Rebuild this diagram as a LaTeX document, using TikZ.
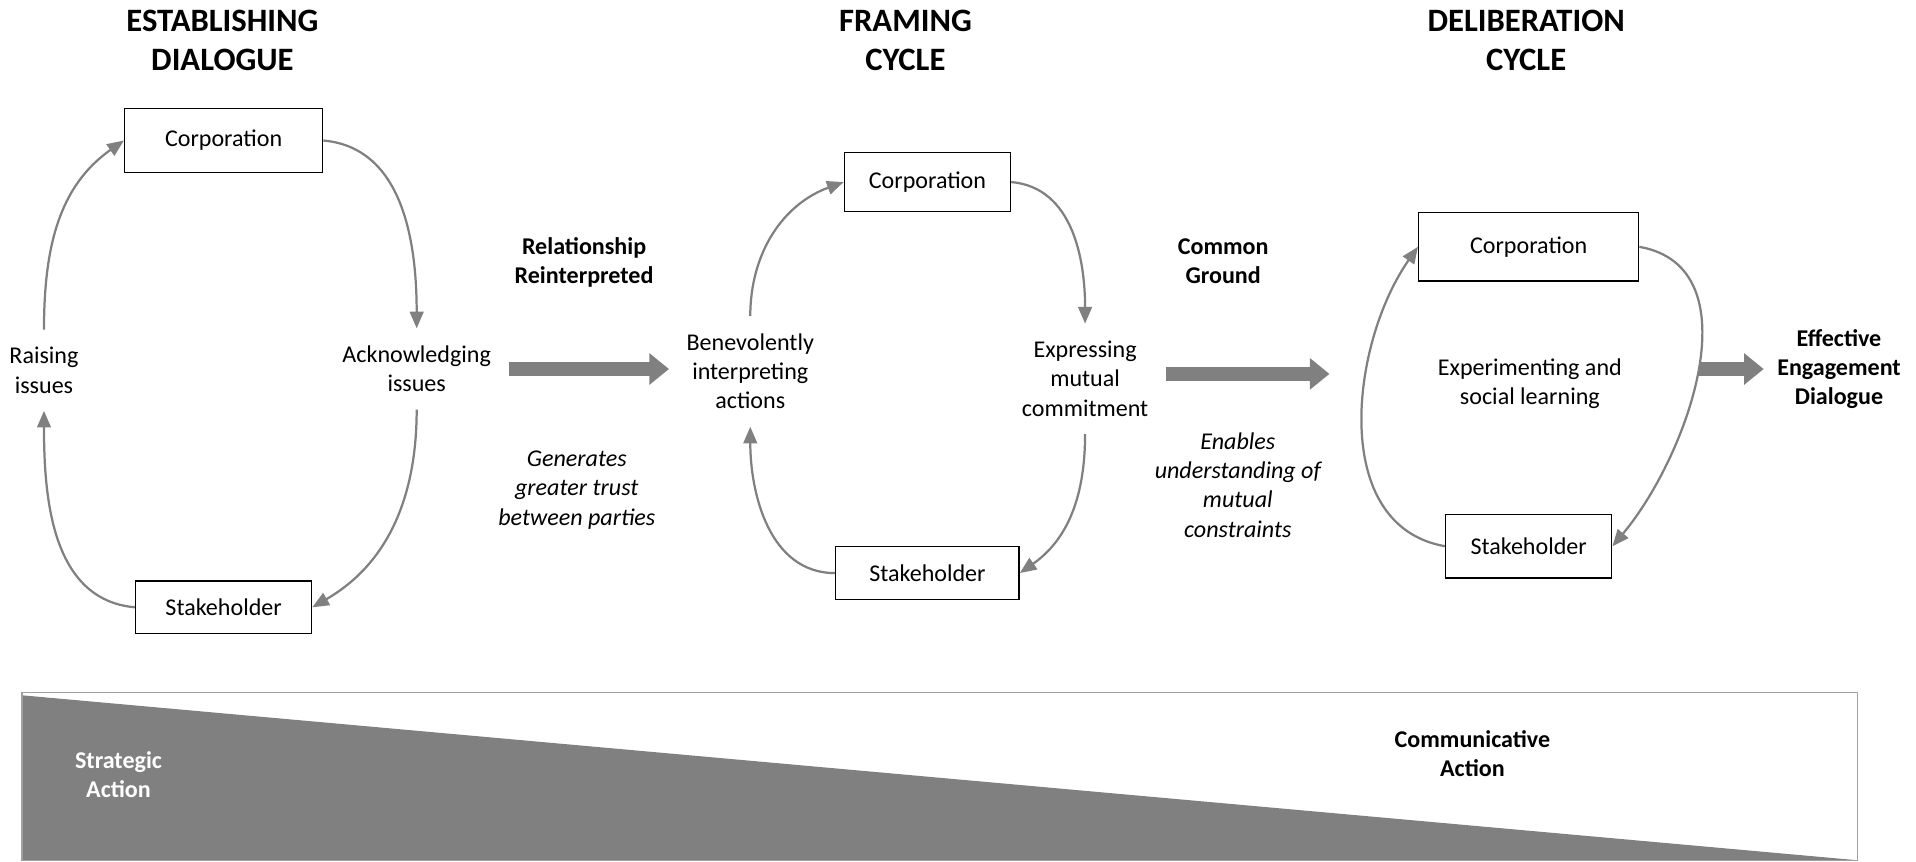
\documentclass[tikz,border=0pt]{standalone}
\usepackage{fontspec}
\setmainfont{Carlito}
\usetikzlibrary{arrows.meta}
\definecolor{arrgray}{RGB}{128,128,128}
\definecolor{rimgray}{RGB}{160,160,160}

\begin{document}
\begin{tikzpicture}[x=0.025cm, y=0.025cm, semithick,
  box/.style={draw, line width=0.8pt, inner sep=0pt, font=\fontsize{14}{17}\selectfont},
  lbl/.style={align=center, inner sep=0.35cm, font=\fontsize{14}{17}\selectfont},
  note/.style={align=center, font=\fontsize{14}{17}\selectfont\itshape},
  head/.style={align=center, font=\fontsize{14}{17}\selectfont\bfseries},
  ttl/.style={align=center, font=\fontsize{19}{23}\selectfont\bfseries},
  cyc/.style={draw=arrgray, line width=1.3pt, -{Triangle[length=0.34cm, width=0.28cm]}},
  fat/.style={draw=arrgray, line width=0.3cm, -{Triangle[length=0.4cm, width=0.62cm]}}]
  \useasboundingbox (0,0) rectangle (1568,705);

  \node[ttl] (ttlA) at (182,672) {ESTABLISHING\\DIALOGUE};
  \node[ttl] (ttlB) at (741,672) {FRAMING\\CYCLE};
  \node[ttl] (ttlC) at (1249,672) {DELIBERATION\\CYCLE};

  % establishing dialogue
  \node[box, minimum width=4.05cm, minimum height=1.3cm] (corpA) at (183,590) {Corporation};
  \node[box, minimum width=3.6cm, minimum height=1.075cm] (stakeA) at (183,208) {Stakeholder};
  \node[lbl] (raise) at (36,402) {Raising\\issues};
  \node[lbl] (ack) at (341,403) {Acknowledging\\issues};
  \draw[cyc] (raise.north) to[out=90, in=215] (corpA.west);
  \draw[cyc] (corpA.east) to[out=-5, in=90] (ack.north);
  \draw[cyc] (ack.south) to[out=-90, in=30] (stakeA.east);
  \draw[cyc] (stakeA.west) to[out=175, in=-90] (raise.south);

  \node[head] (relint) at (478,490) {Relationship\\Reinterpreted};
  \node[note] (trust) at (472,304) {Generates\\greater trust\\between parties};

  % framing cycle
  \node[box, minimum width=3.4cm, minimum height=1.2cm] (corpB) at (759,556) {Corporation};
  \node[box, minimum width=3.75cm, minimum height=1.075cm] (stakeB) at (759,236) {Stakeholder};
  \node[lbl] (benev) at (614,401) {Benevolently\\interpreting\\actions};
  \node[lbl] (expr) at (888,395) {Expressing\\mutual\\commitment};
  \draw[cyc] (benev.north) to[out=90, in=200] (corpB.west);
  \draw[cyc] (corpB.east) to[out=-5, in=90] (expr.north);
  \draw[cyc] (expr.south) to[out=-90, in=35] (stakeB.east);
  \draw[cyc] (stakeB.west) to[out=180, in=-90] (benev.south);
  \draw[fat] (ack.east) -- (ack.east -| benev.west);

  \node[head] (common) at (1001,491) {Common\\Ground};
  \node[note] (enable) at (1013,308) {Enables\\understanding of\\mutual\\constraints};

  % deliberation cycle
  \node[box, minimum width=4.5cm, minimum height=1.4cm] (corpC) at (1251,503) {Corporation};
  \node[box, minimum width=3.4cm, minimum height=1.3cm] (stakeC) at (1251,258) {Stakeholder};
  \node[lbl] (exper) at (1252,391) {Experimenting and\\social learning};
  \draw[cyc] (stakeC.west) to[out=170, in=235] (corpC.west);
  \draw[cyc] (corpC.east) to[out=-10, in=50] (stakeC.east);
  \coordinate (cgend) at (1088,399);
  \draw[fat] (expr.east |- cgend) -- (cgend);

  \node[head] (effect) at (1505,403) {Effective\\Engagement\\Dialogue};
  \coordinate (efstart) at (1390,403);
  \draw[fat, shorten >=0.15cm] (efstart) -- (efstart -| effect.west);

  % strategic vs communicative action
  \fill[arrgray] (18,136) -- (1520,1) -- (18,1) -- cycle;
  \draw[rimgray, line width=0.6pt] (18,0.5) rectangle (1520,138);
  \node[head, text=white] (strat) at (97,71) {Strategic\\Action};
  \node[head] (commun) at (1205,88) {Communicative\\Action};
\end{tikzpicture}
\end{document}
